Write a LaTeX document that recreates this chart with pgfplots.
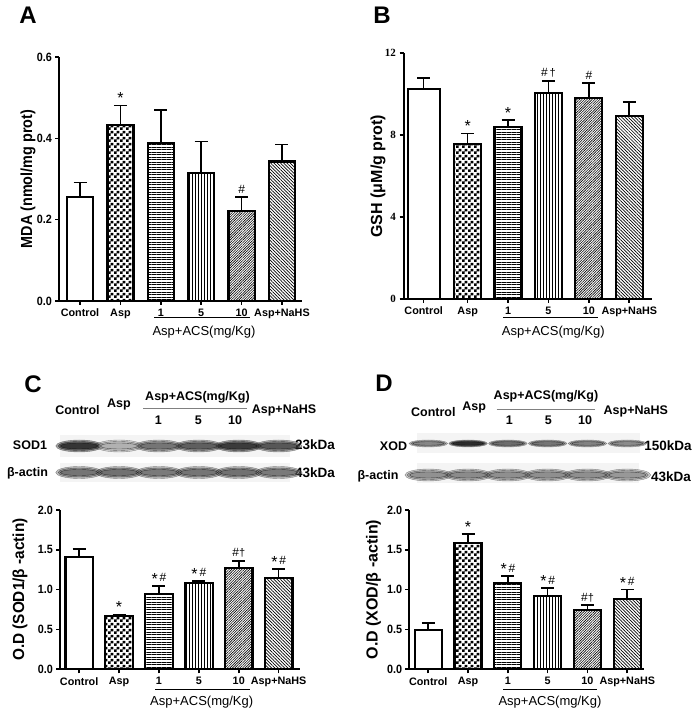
\documentclass[border=0pt]{standalone}
\usepackage{fontspec}
\setmainfont{Liberation Sans}
\newfontfamily\serifb{Liberation Serif}
\usepackage{pgfplots}
\pgfplotsset{compat=1.18}
\usetikzlibrary{patterns,patterns.meta}

\pgfdeclarepatternformonly{checker}{\pgfpointorigin}{\pgfqpoint{6pt}{6pt}}{\pgfqpoint{6pt}{6pt}}{%
 \pgfpathrectangle{\pgfpointorigin}{\pgfqpoint{3pt}{3pt}}%
 \pgfpathrectangle{\pgfqpoint{3pt}{3pt}}{\pgfqpoint{3pt}{3pt}}%
 \pgfusepath{fill}}

\newcommand\fs[1]{\fontsize{#1}{#1}\selectfont}
\newcommand\st{\raisebox{-2.5pt}{\fs{16}*}}
\newcommand\hs{{\fs{12}\#}}

\pgfplotsset{
 barpanel/.style={
  scale only axis, anchor=south west, clip=false,
  axis lines=left, axis line style={line width=2pt,-},
  tick align=outside, major tick length=4pt,
  tick style={line width=1.6pt,black},
  /pgf/number format/assume math mode=true,
  xticklabel style={font=\bfseries\fs{10.8}, yshift=-0.5pt},
  yticklabel style={font=\bfseries\fs{12}, xscale=0.9},
  ylabel style={anchor=center, font=\bfseries\fs{16}},
  ybar, bar shift=0pt,
  every axis plot/.append style={draw=black, line width=2.2pt},
  error bars/y dir=plus, error bars/y explicit,
  error bars/error bar style={line width=1.6pt},
  error bars/error mark options={line width=1.6pt, mark size=6.5pt, rotate=90},
 },
 pwhite/.style={fill=white},
 pcheck/.style={pattern=checker},
 phl/.style={pattern={Lines[angle=0,distance=2.5pt,line width=0.8pt]}},
 pvl/.style={pattern={Lines[angle=90,distance=3pt,line width=0.8pt]}},
 pne/.style={pattern={Lines[angle=45,distance=1.8pt,line width=0.6pt]}},
 pnw/.style={pattern={Lines[angle=-45,distance=2.3pt,line width=0.7pt]}},
 blot/.style={
  scale only axis, anchor=south west, clip=false, hide axis,
  ymin=0, ymax=60, height=60pt,
  colormap={blotmap}{color=(gray!10) color=(black)},
  point meta min=0, point meta max=100,
 },
}

\newcommand\ann[3]{\node[anchor=base, yshift=4pt, font=\fs{11}, inner sep=0pt] at (axis cs:#1,#2) {#3};}

\newcommand\bands[3]{% table, xscale, mark size
 \addplot[scatter, only marks, mark=*, point meta=explicit, opacity=0.4,
   scatter/use mapped color={draw=none, fill=mapped color},
   mark size=#3, mark options={xscale=#2}] table[x=x, y=y, meta=d] {#1};
 \addplot[scatter, only marks, mark=*, point meta=explicit, opacity=0.5,
   scatter/use mapped color={draw=none, fill=mapped color},
   mark size=0.75*#3, mark options={xscale=1.2*#2}] table[x=x, y=y, meta=d] {#1};
 \addplot[scatter, only marks, mark=*, point meta=explicit, opacity=0.6,
   scatter/use mapped color={draw=none, fill=mapped color},
   mark size=0.5*#3, mark options={xscale=1.6*#2}] table[x=x, y=y, meta=d] {#1};
}

\begin{document}
\begin{tikzpicture}
\useasboundingbox (0pt,0pt) rectangle (697pt,712pt);

% ---------------- Panel A ----------------
\node[font=\bfseries\fs{24}] at (28pt,697pt) {A};
\begin{axis}[barpanel, at={(59pt,411pt)}, width=243.2pt, height=244pt,
  xmin=-0.52, xmax=5.5, ymin=0, ymax=0.6,
  ytick={0,0.2,0.4,0.6},
  yticklabel style={/pgf/number format/.cd, fixed, fixed zerofill, precision=1},
  xtick={0,...,5}, xticklabels={Control,Asp,1,5,10,Asp+NaHS},
  ylabel={MDA (nmol/mg prot)},
  ylabel style={at={(axis description cs:-0.127,0.5)}, xscale=0.9},
  bar width=26pt]
\addplot[pwhite] coordinates {(0,0.256) +- (0,0.035)};
\addplot[pcheck] coordinates {(1,0.433) +- (0,0.048)};
\addplot[phl] coordinates {(2,0.389) +- (0,0.080)};
\addplot[pvl] coordinates {(3,0.314) +- (0,0.078)};
\addplot[pne] coordinates {(4,0.221) +- (0,0.034)};
\addplot[pnw] coordinates {(5,0.343) +- (0,0.042)};
\ann{1}{0.481}{\st}
\ann{4}{0.255}{\hs}
\end{axis}
\draw[line width=1pt] (154pt,394pt) -- (250pt,394pt);
\node[font=\fs{13}] at (204pt,380pt) {Asp+ACS(mg/Kg)};

% ---------------- Panel B ----------------
\node[font=\bfseries\fs{24}] at (382pt,697pt) {B};
\begin{axis}[barpanel, at={(403.5pt,413pt)}, width=248pt, height=245.7pt,
  xmin=-0.589, xmax=5.55, ymin=0, ymax=12,
  ytick={0,4,8,12},
  yticklabel style={font=\serifb\bfseries\fs{11}, xscale=1.11},
  xtick={-0.09,1,2,3,4,5}, xticklabels={Control,Asp,1,5,10,Asp+NaHS},
  ylabel={GSH (μM/g prot)},
  ylabel style={at={(axis description cs:-0.103,0.5)}},
  bar width=27pt]
\addplot[pwhite, bar width=32pt] coordinates {(-0.09,10.26) +- (0,0.52)};
\addplot[pcheck] coordinates {(1,7.57) +- (0,0.52)};
\addplot[phl] coordinates {(2,8.39) +- (0,0.35)};
\addplot[pvl] coordinates {(3,10.08) +- (0,0.57)};
\addplot[pne] coordinates {(4,9.82) +- (0,0.72)};
\addplot[pnw] coordinates {(5,8.95) +- (0,0.66)};
\ann{1}{8.09}{\st}
\ann{2}{8.74}{\st}
\ann{3}{10.65}{\hs\,†}
\ann{4}{10.54}{\hs}
\end{axis}
\draw[line width=1pt] (503.3pt,394.7pt) -- (598.3pt,394.7pt);
\node[font=\fs{13}] at (553.3pt,380.3pt) {Asp+ACS(mg/Kg)};

% ---------------- Panel C ----------------
\node[font=\bfseries\fs{24}] at (33pt,328pt) {C};
\begin{scope}[every node/.style={font=\bfseries\fs{12.5}}]
\node at (77.5pt,302pt) {Control};
\node at (119pt,307pt) {Asp};
\node at (197.5pt,315pt) {Asp+ACS(mg/Kg)};
\node at (158.3pt,292pt) {1};
\node at (198.3pt,292pt) {5};
\node at (235pt,292pt) {10};
\node at (284pt,302pt) {Asp+NaHS};
\node at (30pt,267pt) {SOD1};
\node at (27.5pt,239pt) {β-actin};
\node[font=\bfseries\fs{13.5}] at (315pt,267pt) {23kDa};
\node[font=\bfseries\fs{13.5}] at (315pt,239pt) {43kDa};
\end{scope}
\draw[gray, line width=0.6pt] (143pt,303.7pt) -- (247pt,303.7pt);

\pgfplotstableread{
x y d
0 41 88
1 41 30
2 41 58
3 41 68
4 41 85
5 41 72
}\sodband
\pgfplotstableread{
x y d
0 14.5 58
1 14.5 60
2 14.5 56
3 14.5 58
4 14.5 60
5 14.5 56
}\actinC
\begin{axis}[blot, at={(60pt,225pt)}, width=240.2pt, xmin=-0.48, xmax=5.54]
\fill[gray!9] (axis cs:-0.48,30) rectangle (axis cs:5.28,52);
\fill[gray!9] (axis cs:-0.48,5) rectangle (axis cs:5.28,24);
\bands{\sodband}{3.9}{6pt}
\bands{\actinC}{3.9}{6pt}
\end{axis}

\begin{axis}[barpanel, at={(60pt,42.7pt)}, width=240.2pt, height=159.3pt,
  xmin=-0.48, xmax=5.54, ymin=0, ymax=2,
  ytick={0,0.5,1,1.5,2},
  yticklabel style={/pgf/number format/.cd, fixed, fixed zerofill, precision=1},
  xtick={0,...,5}, xticklabels={Control,Asp,1,5,10,Asp+NaHS},
  ylabel={O.D (SOD1/β -actin)},
  ylabel style={at={(axis description cs:-0.167,0.5)}, xscale=0.96},
  bar width=27.5pt]
\addplot[pwhite] coordinates {(0,1.41) +- (0,0.10)};
\addplot[pcheck] coordinates {(1,0.67) +- (0,0.02)};
\addplot[phl] coordinates {(2,0.945) +- (0,0.10)};
\addplot[pvl] coordinates {(3,1.08) +- (0,0.03)};
\addplot[pne] coordinates {(4,1.27) +- (0,0.09)};
\addplot[pnw] coordinates {(5,1.15) +- (0,0.11)};
\ann{1}{0.69}{\st}
\ann{2}{1.05}{\st\,\hs}
\ann{3}{1.11}{\st\,\hs}
\ann{4}{1.36}{\hs†}
\ann{5}{1.26}{\st\,\hs}
\end{axis}
\draw[line width=1pt] (155pt,22pt) -- (250pt,22pt);
\node[font=\fs{13}] at (201.7pt,10.3pt) {Asp+ACS(mg/Kg)};

% ---------------- Panel D ----------------
\node[font=\bfseries\fs{24}] at (384pt,329pt) {D};
\begin{scope}[every node/.style={font=\bfseries\fs{12.5}}]
\node at (433.3pt,300.3pt) {Control};
\node at (474.2pt,304pt) {Asp};
\node at (546pt,315.3pt) {Asp+ACS(mg/Kg)};
\node at (509.3pt,292pt) {1};
\node at (548.3pt,292pt) {5};
\node at (585pt,292pt) {10};
\node at (635.8pt,300.3pt) {Asp+NaHS};
\node at (393.5pt,266pt) {XOD};
\node at (378pt,235.3pt) {β-actin};
\node[font=\bfseries\fs{13.5}] at (668pt,266pt) {150kDa};
\node[font=\bfseries\fs{13.5}] at (671pt,235pt) {43kDa};
\end{scope}
\draw[gray, line width=0.6pt] (496.7pt,302.7pt) -- (595pt,302.7pt);

\pgfplotstableread{
x y d
0 43.5 50
1 43.5 92
2 43.5 62
3 43.5 58
4 43.5 52
5 43.5 48
}\xodband
\pgfplotstableread{
x y d
0 12 45
1 12 48
2 12 46
3 12 46
4 12 46
5 12 42
}\actinD
\begin{axis}[blot, at={(409.3pt,225pt)}, width=234.7pt, xmin=-0.477, xmax=5.42]
\fill[gray!9] (axis cs:-0.28,34) rectangle (axis cs:5.32,54);
\fill[gray!9] (axis cs:-0.29,4) rectangle (axis cs:5.3,24);
\bands{\xodband}{5.5}{3.5pt}
\bands{\actinD}{3.9}{6pt}
\end{axis}

\begin{axis}[barpanel, at={(409.3pt,42.7pt)}, width=234.7pt, height=159.3pt,
  xmin=-0.477, xmax=5.42, ymin=0, ymax=2,
  ytick={0,0.5,1,1.5,2},
  yticklabel style={/pgf/number format/.cd, fixed, fixed zerofill, precision=1},
  xtick={0,...,5}, xticklabels={Control,Asp,1,5,10,Asp+NaHS},
  ylabel={O.D (XOD/β -actin)},
  ylabel style={at={(axis description cs:-0.153,0.5)}},
  bar width=27pt]
\addplot[pwhite] coordinates {(0,0.49) +- (0,0.09)};
\addplot[pcheck] coordinates {(1,1.59) +- (0,0.11)};
\addplot[phl] coordinates {(2,1.08) +- (0,0.09)};
\addplot[pvl] coordinates {(3,0.92) +- (0,0.10)};
\addplot[pne] coordinates {(4,0.74) +- (0,0.07)};
\addplot[pnw] coordinates {(5,0.88) +- (0,0.12)};
\ann{1}{1.70}{\st}
\ann{2}{1.17}{\st\,\hs}
\ann{3}{1.02}{\st\,\hs}
\ann{4}{0.80}{\hs†}
\ann{5}{1.00}{\st\,\hs}
\end{axis}
\draw[line width=1pt] (503.3pt,22pt) -- (596.7pt,22pt);
\node[font=\fs{13}] at (550pt,10.3pt) {Asp+ACS(mg/Kg)};
\end{tikzpicture}
\end{document}
